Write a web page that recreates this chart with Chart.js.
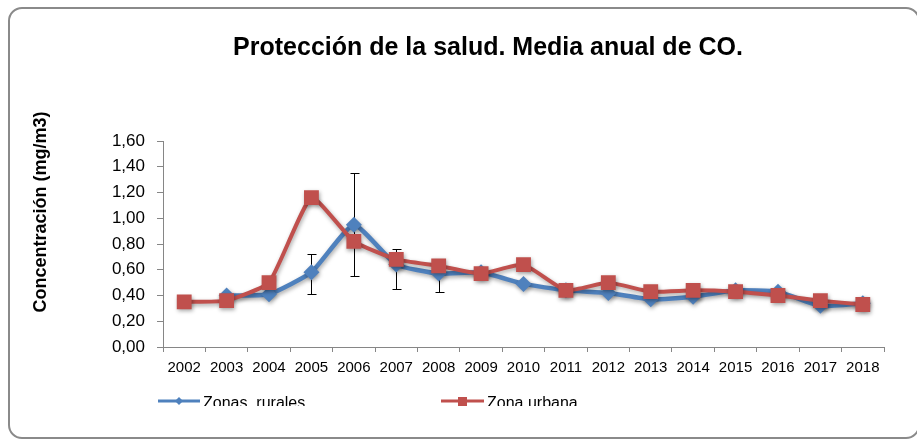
<!DOCTYPE html>
<html>
<head>
<meta charset="utf-8">
<script src="https://cdn.jsdelivr.net/npm/chart.js@4"></script>
<style>
  html, body { margin: 0; padding: 0; background: #fff; }
  #wrap { position: relative; width: 917px; height: 443px; overflow: hidden; }
  #frame {
    position: absolute; left: 8px; top: 7px; width: 912px; height: 432px;
    border: 2px solid #8a8a8a; border-radius: 14px; box-sizing: border-box;
  }
  canvas { position: absolute; left: 0; top: 0; }
</style>
</head>
<body>
<div id="wrap">
  <div id="frame"></div>
  <canvas id="chart" width="917" height="443"></canvas>
</div>
<script>
// Data
const years = ['2002', '2003', '2004', '2005', '2006', '2007', '2008', '2009', '2010',
               '2011', '2012', '2013', '2014', '2015', '2016', '2017', '2018'];
const rurales = [null, 0.40, 0.41, 0.58, 0.95, 0.64, 0.57, 0.58, 0.49,
                 0.44, 0.42, 0.37, 0.39, 0.44, 0.43, 0.32, 0.34];
const urbana = [0.35, 0.36, 0.50, 1.16, 0.82, 0.68, 0.63, 0.57, 0.64,
                0.44, 0.50, 0.43, 0.44, 0.43, 0.40, 0.36, 0.33];
// error bars on rural series: [low, high], null where none
const ruralErrLow = [null, null, null, 0.41, 0.55, 0.45, 0.43, null, null,
                     null, null, null, null, null, null, null, null];
const ruralErrHigh = [null, null, null, 0.72, 1.35, 0.76, 0.60, null, null,
                      null, null, null, null, null, null, null, null];

const BLUE = '#4F81BD';
const RED = '#C0504D';
const AXIS = '#868686';
const FONT = "'Liberation Sans', Arial, sans-serif";

// Error bars for the rural series
const errorBars = {
  id: 'errorBars',
  beforeDatasetsDraw(chart) {
    const ctx = chart.ctx;
    const x = chart.scales.x, y = chart.scales.y;
    ctx.save();
    ctx.strokeStyle = '#000';
    ctx.lineWidth = 1;
    years.forEach((yr, i) => {
      if (ruralErrLow[i] == null) return;
      const px = Math.round(x.getPixelForValue(i)) + 0.5;
      const y1 = Math.round(y.getPixelForValue(ruralErrLow[i])) + 0.5;
      const y2 = Math.round(y.getPixelForValue(ruralErrHigh[i])) + 0.5;
      ctx.beginPath();
      ctx.moveTo(px, y1); ctx.lineTo(px, y2);
      ctx.moveTo(px - 4, y1); ctx.lineTo(px + 5, y1);
      ctx.moveTo(px - 4, y2); ctx.lineTo(px + 5, y2);
      ctx.stroke();
    });
    ctx.restore();
  }
};

// soft shadow under series, like the original
const seriesShadow = {
  id: 'seriesShadow',
  beforeDatasetDraw(chart) {
    const ctx = chart.ctx;
    ctx.save();
    ctx.shadowColor = 'rgba(0,0,0,0.35)';
    ctx.shadowBlur = 4;
    ctx.shadowOffsetY = 2;
    ctx.shadowOffsetX = 1;
  },
  afterDatasetDraw(chart) {
    chart.ctx.restore();
  }
};

// Title, axis title and legend
const decorations = {
  id: 'decorations',
  afterDraw(chart) {
    const ctx = chart.ctx;
    ctx.save();
    ctx.fillStyle = '#000';
    ctx.textAlign = 'center';
    ctx.textBaseline = 'middle';
    ctx.font = 'bold 25px ' + FONT;
    ctx.fillText('Protección de la salud. Media anual de CO.', 488, 48);

    ctx.save();
    ctx.translate(41, 212);
    ctx.rotate(-Math.PI / 2);
    ctx.font = 'bold 18px ' + FONT;
    ctx.fillText('Concentración (mg/m3)', 0, 0);
    ctx.restore();

    // legend, clipped at the bottom like the reference
    ctx.beginPath();
    ctx.rect(0, 380, 917, 26);
    ctx.clip();
    ctx.lineWidth = 3;
    ctx.strokeStyle = BLUE;
    ctx.beginPath(); ctx.moveTo(158, 401); ctx.lineTo(200, 401); ctx.stroke();
    ctx.fillStyle = BLUE;
    ctx.beginPath();
    ctx.moveTo(179, 397); ctx.lineTo(183, 401); ctx.lineTo(179, 405); ctx.lineTo(175, 401);
    ctx.closePath(); ctx.fill();
    ctx.strokeStyle = RED;
    ctx.beginPath(); ctx.moveTo(441, 401); ctx.lineTo(484, 401); ctx.stroke();
    ctx.fillStyle = RED;
    ctx.fillRect(458, 397, 9, 9);

    ctx.fillStyle = '#000';
    ctx.textAlign = 'left';
    ctx.font = '16px ' + FONT;
    ctx.fillText('Zonas  rurales', 203, 404);
    ctx.fillText('Zona urbana', 487, 404);
    ctx.restore();
  }
};

new Chart(document.getElementById('chart'), {
  type: 'line',
  data: {
    labels: years,
    datasets: [
      {
        label: 'Zona urbana',
        data: urbana,
        order: 1,
        borderColor: RED,
        backgroundColor: RED,
        borderWidth: 4,
        tension: 0.15,
        pointStyle: 'rect',
        pointRadius: 10.5,
        pointBorderWidth: 0,
        pointBackgroundColor: RED
      },
      {
        label: 'Zonas  rurales',
        data: rurales,
        order: 2,
        borderColor: BLUE,
        backgroundColor: BLUE,
        borderWidth: 4.5,
        tension: 0.15,
        pointStyle: 'rectRot',
        pointRadius: 8,
        pointBorderWidth: 0,
        pointBackgroundColor: BLUE
      }
    ]
  },
  options: {
    responsive: false,
    animation: false,
    events: [],
    layout: { padding: { left: 25, right: 33, top: 141, bottom: 66 } },
    plugins: { legend: { display: false }, title: { display: false }, tooltip: { enabled: false } },
    scales: {
      x: {
        offset: true,
        grid: { offset: true, drawOnChartArea: false, drawTicks: true, tickLength: 5, color: AXIS },
        border: { display: true, color: AXIS, width: 1 },
        ticks: { color: '#000', font: { family: FONT, size: 15 }, padding: 7, maxRotation: 0, autoSkip: false },
        afterFit(scale) { scale.height = 30; }
      },
      y: {
        min: 0,
        max: 1.6,
        grid: { drawOnChartArea: false, drawTicks: true, tickLength: 6, color: AXIS },
        border: { display: true, color: AXIS, width: 1 },
        ticks: {
          stepSize: 0.2,
          color: '#000',
          padding: 12,
          font: { family: FONT, size: 17 },
          callback: (v) => v.toFixed(2).replace('.', ',')
        },
        afterFit(scale) { scale.width = 138; }
      }
    }
  },
  plugins: [errorBars, seriesShadow, decorations]
});
</script>
</body>
</html>
